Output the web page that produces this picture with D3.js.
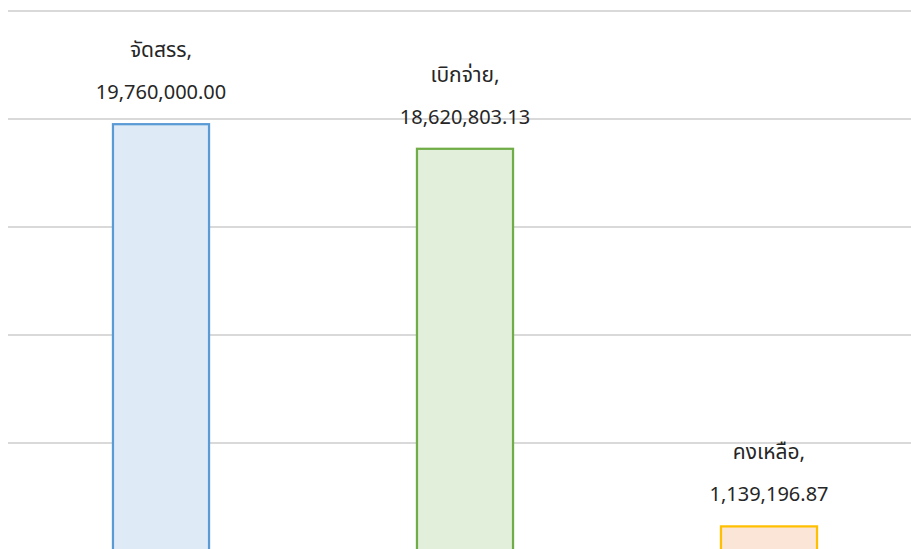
<!DOCTYPE html>
<html>
<head>
<meta charset="utf-8">
<script src="https://cdn.jsdelivr.net/npm/d3@7"></script>
<style>
  body { margin: 0; background: #fff; }
  svg { display: block; }
  text { font-family: "Noto Sans", "Noto Sans Thai", "DejaVu Sans", sans-serif; }
</style>
</head>
<body>
<div id="chart"></div>
<script>
// Data
var categories = ["จัดสรร", "เบิกจ่าย", "คงเหลือ"];
var values = [19760000.00, 18620803.13, 1139196.87];
var yTicks = [0, 5000000, 10000000, 15000000, 20000000, 25000000];

// Colours per bar
var fills = ["#deebf7", "#e2efda", "#fbe5d6"];
var strokes = ["#5b9bd5", "#70ad47", "#ffc000"];

var width = 911,
    height = 549;

var svg = d3.select("#chart")
    .append("svg")
    .attr("width", width)
    .attr("height", height);

// plot area runs past the bottom/right edge of the window
var x = d3.scaleBand()
    .domain(categories)
    .range([9, 921])
    .paddingInner(0.684)
    .paddingOuter(0.342);

var y = d3.scaleLinear()
    .domain([0, 25000000])
    .range([551, 11]);

// gridlines
svg.append("g")
    .selectAll("line")
    .data(yTicks)
    .enter().append("line")
    .attr("x1", 8)
    .attr("x2", width)
    .attr("y1", function(d) { return y(d); })
    .attr("y2", function(d) { return y(d); })
    .attr("stroke", "#d9d9d9")
    .attr("stroke-width", 2);

// bars
svg.append("g")
    .selectAll("rect")
    .data(values)
    .enter().append("rect")
    .attr("x", function(d, i) { return x(categories[i]); })
    .attr("y", function(d) { return y(d); })
    .attr("width", x.bandwidth())
    .attr("height", function(d) { return y(0) - y(d); })
    .attr("fill", function(d, i) { return fills[i]; })
    .attr("stroke", function(d, i) { return strokes[i]; })
    .attr("stroke-width", 2.25);

// data labels: "category," on one line, value below
var fmt = d3.format(",.2f");
var labels = svg.append("g")
    .selectAll("g")
    .data(values)
    .enter().append("g")
    .attr("transform", function(d, i) {
        return "translate(" + (x(categories[i]) + x.bandwidth() / 2) + "," + (y(d) - 25) + ")";
    });

labels.append("text")
    .attr("y", -42)
    .attr("text-anchor", "middle")
    .attr("font-size", 21)
    .attr("fill", "#262626")
    .text(function(d, i) { return categories[i] + ","; });

labels.append("text")
    .attr("y", 0)
    .attr("text-anchor", "middle")
    .attr("font-size", 20)
    .attr("fill", "#262626")
    .text(function(d) { return fmt(d); });
</script>
</body>
</html>
